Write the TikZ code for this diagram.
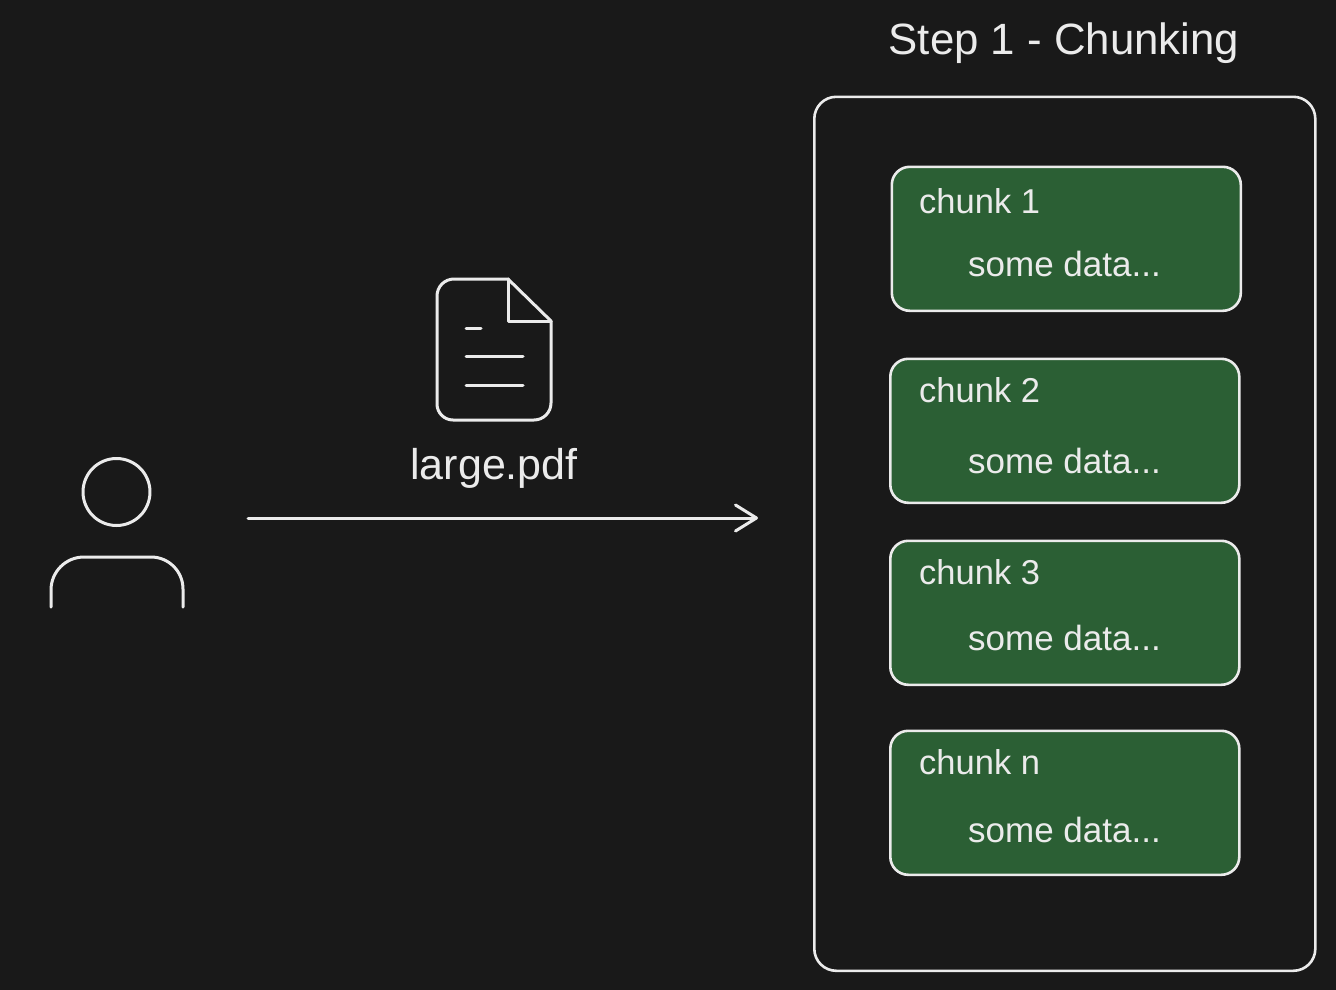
\documentclass[tikz,border=0pt]{standalone}
\usepackage{fontspec}
\setmainfont{Liberation Sans}
\usetikzlibrary{arrows.meta}
\definecolor{bgdark}{HTML}{191919}
\definecolor{chunkgreen}{HTML}{2B5F34}
\definecolor{sketchline}{HTML}{EBEBEB}
\tikzset{
  sketch/.style={draw=sketchline, line width=2.6pt, line cap=round, line join=round},
  chunkbox/.style={sketch, fill=chunkgreen, rounded corners=18pt, minimum width=349pt, minimum height=144pt, anchor=north west},
  chunktitle/.style={text=sketchline, inner sep=0pt, font=\fontsize{34.5}{40}\selectfont, anchor=west},
  chunkdata/.style={text=sketchline, inner sep=0pt, font=\fontsize{35}{40}\selectfont, anchor=west},
}
\begin{document}
\begin{tikzpicture}[x=1pt,y=-1pt]
    % Background
    \fill[bgdark] (0,0) rectangle (1336,990);
    \useasboundingbox (0,0) rectangle (1336,990);

    % Title
    \node[text=sketchline, inner sep=0pt, font=\fontsize{43.8}{48}\selectfont] (title) at (1064,43) {Step 1 - Chunking};

    % Outer frame
    \node[sketch, rounded corners=22pt, minimum width=501pt, minimum height=874pt, anchor=north west] (frame) at (813,95.5) {};

    % Chunks
    \node[chunkbox] (chunkA) at (890.5,165.5) {};
    \node[chunkbox] (chunkB) at (889,357.5) {};
    \node[chunkbox] (chunkC) at (889,539.5) {};
    \node[chunkbox] (chunkD) at (889,729.5) {};
    \node[chunktitle] (titleA) at (919,201) {chunk 1};
    \node[chunktitle] (titleB) at (919,390) {chunk 2};
    \node[chunktitle] (titleC) at (919,572) {chunk 3};
    \node[chunktitle] (titleD) at (919,762) {chunk n};
    \node[chunkdata] (dataA) at (968,264) {some data...};
    \node[chunkdata] (dataB) at (968,461) {some data...};
    \node[chunkdata] (dataC) at (968,638) {some data...};
    \node[chunkdata] (dataD) at (968,830) {some data...};

    % Person
    \draw[sketch, line width=3pt] (116.5,492) circle (33.5);
    \draw[sketch, line width=3pt] (51,607) -- (51,590) arc (180:270:33) -- (151,557) arc (270:360:32) -- (183,607);

    % Document icon
    \draw[sketch, line width=3pt] (508,279) -- (454,279) arc (270:180:17) -- (437,404) arc (180:90:16) -- (534,420) arc (90:0:17) -- (551,321) -- cycle;
    \draw[sketch, line width=3pt] (508,279) -- (508,321) -- (551,321);
    \draw[sketch, line width=3pt] (466,328) -- (481,328);
    \draw[sketch, line width=3pt] (466,356) -- (523,356);
    \draw[sketch, line width=3pt] (466,385) -- (523,385);
    \node[text=sketchline, inner sep=0pt, font=\fontsize{43}{48}\selectfont] (pdf) at (494,468) {large.pdf};

    % Arrow
    \coordinate (from) at (248,518);
    \coordinate (to) at (758,518);
    \draw[sketch, line width=3pt, -{Straight Barb[length=21pt,width=26pt,line width=3pt,round]}] (from) -- (to);
\end{tikzpicture}
\end{document}
